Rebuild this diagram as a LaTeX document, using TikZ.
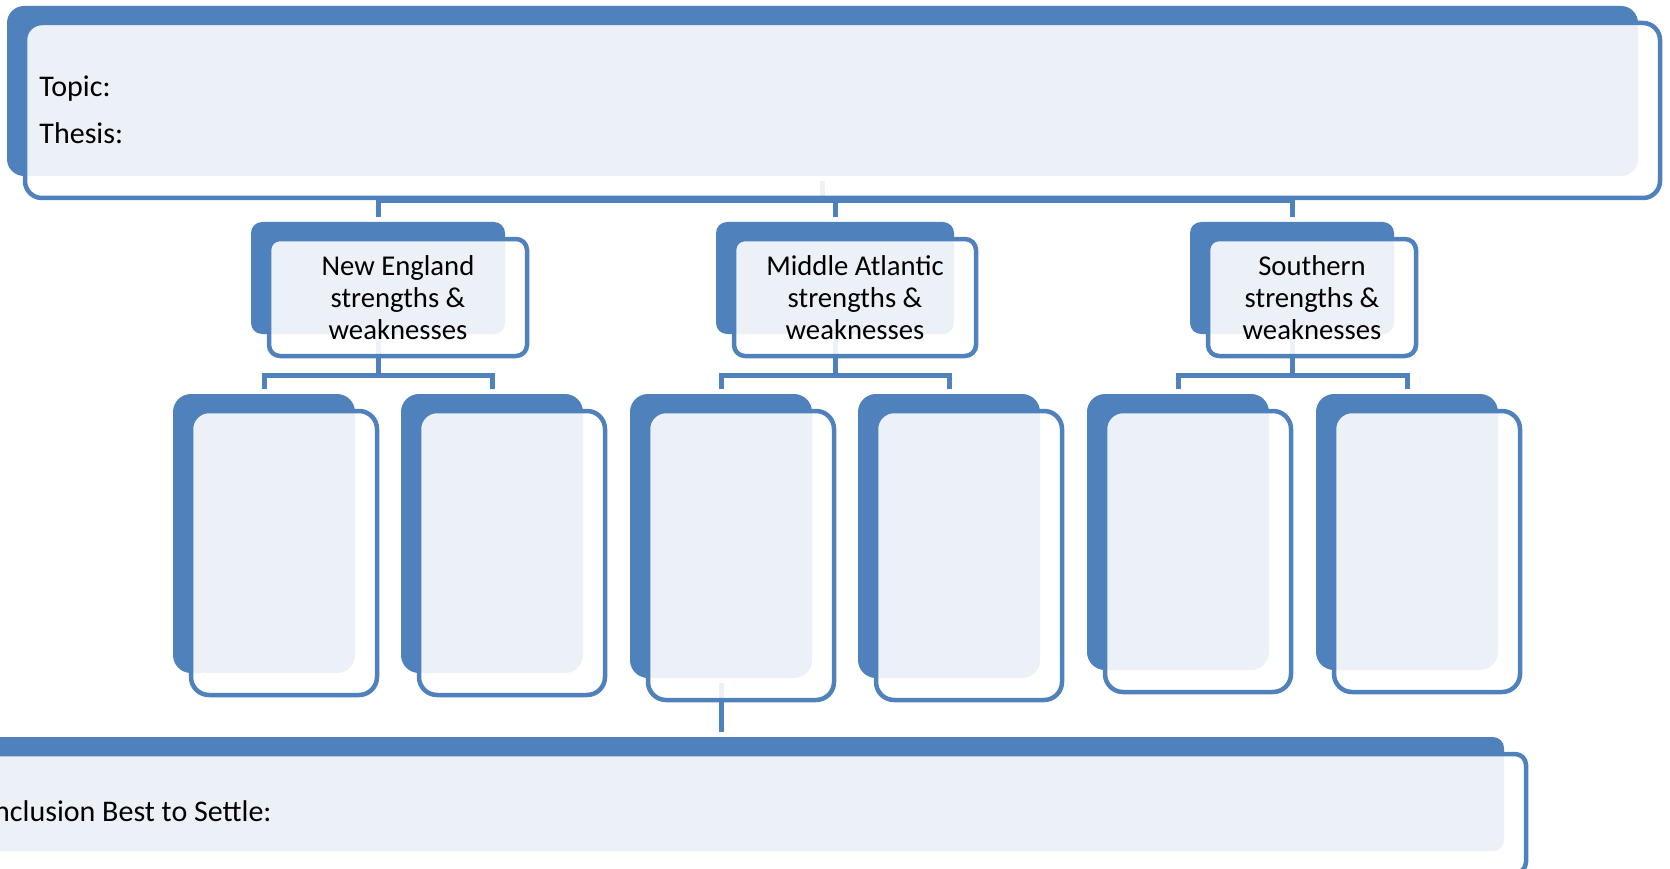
\documentclass[tikz,border=0pt]{standalone}
\usepackage{fontspec}
\setmainfont{Carlito}
\usetikzlibrary{backgrounds}

\begin{document}
\begin{tikzpicture}[x=1pt, y=-1pt]
  \definecolor{sablue}{HTML}{4F81BD}
  \tikzstyle{backbox}=[fill=sablue, inner sep=0pt]
  \tikzstyle{frontbox}=[draw=sablue, line width=4.5pt, fill=white, fill opacity=0.89, text opacity=1,
    inner sep=0pt, align=center, font=\fontsize{28.7}{32}\selectfont]
  \tikzstyle{txt}=[anchor=base west, inner sep=0pt, font=\fontsize{30}{34}\selectfont]
  \tikzstyle{link}=[draw=sablue, line width=5pt, shorten <=5pt, shorten >=5pt]

  \useasboundingbox (0,0) rectangle (1670,869);
  \clip (0,0) rectangle (1670,869);

  \node[backbox, minimum width=1631pt, minimum height=170pt, rounded corners=17pt] (top) at (822.5,91) {};
  \node[frontbox, minimum width=1635pt, minimum height=175pt, rounded corners=17pt] (top-f) at ([shift={(20,19.5)}]top.center) {};
  \node[txt] (topic) at ([shift={(16.5,75.5)}]top-f.north west) {Topic:};
  \node[txt] (thesis) at ([shift={(16.5,122.5)}]top-f.north west) {Thesis:};

  \node[backbox, minimum width=254pt, minimum height=112pt, rounded corners=11pt] (ne) at (378,278) {};
  \node[frontbox, minimum width=258pt, minimum height=117pt, rounded corners=11pt] (ne-f) at ([shift={(20,19.5)}]ne.center) {New England\\strengths \&\\weaknesses};
  \node[backbox, minimum width=238pt, minimum height=112pt, rounded corners=11pt] (ma) at (835,278) {};
  \node[frontbox, minimum width=242pt, minimum height=117pt, rounded corners=11pt] (ma-f) at ([shift={(20,19.5)}]ma.center) {Middle Atlantic\\strengths \&\\weaknesses};
  \node[backbox, minimum width=204pt, minimum height=112pt, rounded corners=11pt] (so) at (1292,278) {};
  \node[frontbox, minimum width=208pt, minimum height=117pt, rounded corners=11pt] (so-f) at ([shift={(20,19.5)}]so.center) {Southern\\strengths \&\\weaknesses};

  \node[backbox, minimum width=182pt, minimum height=279pt, rounded corners=18pt] (ne1) at (264,533.5) {};
  \node[frontbox, minimum width=186pt, minimum height=284pt, rounded corners=18pt] (ne1-f) at ([shift={(20,19.5)}]ne1.center) {};
  \node[backbox, minimum width=182pt, minimum height=279pt, rounded corners=18pt] (ne2) at (492,533.5) {};
  \node[frontbox, minimum width=186pt, minimum height=284pt, rounded corners=18pt] (ne2-f) at ([shift={(20,19.5)}]ne2.center) {};
  \node[backbox, minimum width=182pt, minimum height=284pt, rounded corners=18pt] (ma1) at (721,536) {};
  \node[frontbox, minimum width=186pt, minimum height=289pt, rounded corners=18pt] (ma1-f) at ([shift={(20,19.5)}]ma1.center) {};
  \node[backbox, minimum width=182pt, minimum height=284pt, rounded corners=18pt] (ma2) at (949,536) {};
  \node[frontbox, minimum width=186pt, minimum height=289pt, rounded corners=18pt] (ma2-f) at ([shift={(20,19.5)}]ma2.center) {};
  \node[backbox, minimum width=182pt, minimum height=276pt, rounded corners=18pt] (so1) at (1178,532) {};
  \node[frontbox, minimum width=186pt, minimum height=281pt, rounded corners=18pt] (so1-f) at ([shift={(20,19.5)}]so1.center) {};
  \node[backbox, minimum width=182pt, minimum height=276pt, rounded corners=18pt] (so2) at (1407,532) {};
  \node[frontbox, minimum width=186pt, minimum height=281pt, rounded corners=18pt] (so2-f) at ([shift={(20,19.5)}]so2.center) {};

  \node[backbox, minimum width=1567pt, minimum height=114pt, rounded corners=11pt] (bot) at (720.5,794) {};
  \node[frontbox, minimum width=1571pt, minimum height=119pt, rounded corners=11pt] (bot-f) at ([shift={(20,19.5)}]bot.center) {};
  \node[txt] (concl) at ([shift={(9.5,70)}]bot-f.north west) {Conclusion Best to Settle:};

  \begin{scope}[on background layer]
    \draw[link] (top.south) -- ++(0,24) -| (ne.north);
    \draw[link] (top.south) -- ++(0,24) -| (ma.north);
    \draw[link] (top.south) -- ++(0,24) -| (so.north);
    \draw[link] (ne.south) -- ++(0,41) -| (ne1.north);
    \draw[link] (ne.south) -- ++(0,41) -| (ne2.north);
    \draw[link] (ma.south) -- ++(0,41) -| (ma1.north);
    \draw[link] (ma.south) -- ++(0,41) -| (ma2.north);
    \draw[link] (so.south) -- ++(0,41) -| (so1.north);
    \draw[link] (so.south) -- ++(0,41) -| (so2.north);
    \draw[link] (ma1.south) -- (ma1.south |- bot.north);
  \end{scope}
\end{tikzpicture}
\end{document}
